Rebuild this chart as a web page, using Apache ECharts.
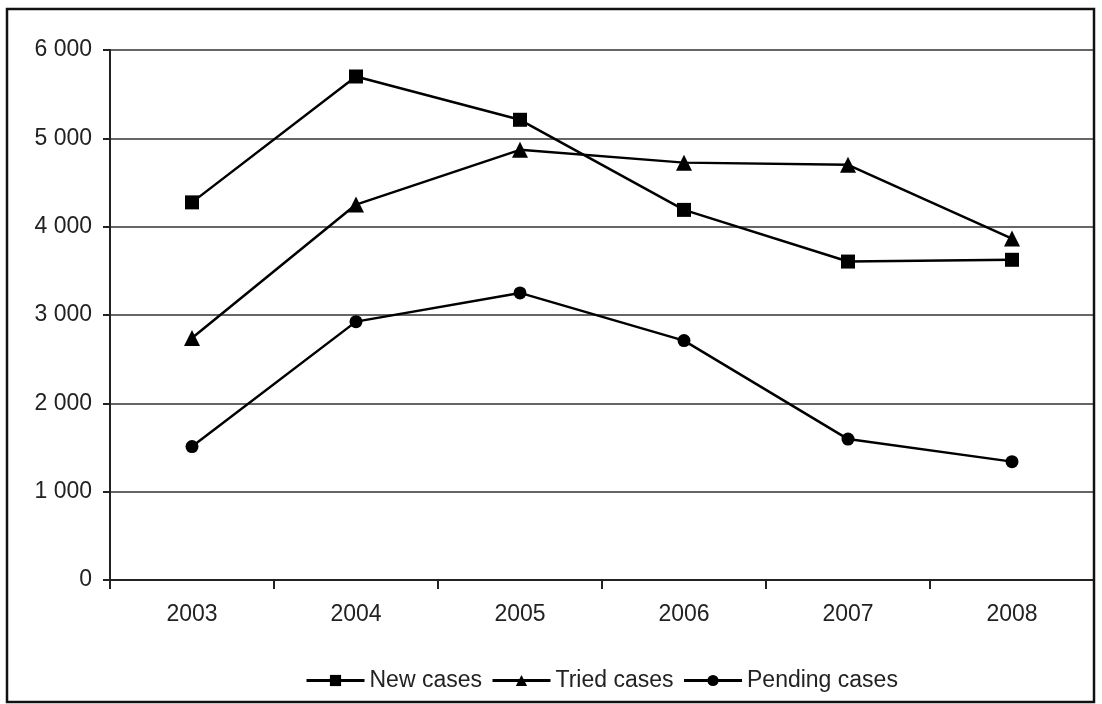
<!DOCTYPE html>
<html><head><meta charset="utf-8">
<script src="https://cdn.jsdelivr.net/npm/echarts@6/dist/echarts.min.js"></script>
<style>html,body{margin:0;padding:0;background:#fff}#c{width:1102px;height:704px}</style>
</head><body><div id="c"></div>
<script>
const categories = ['2003','2004','2005','2006','2007','2008'];
const newCases = [4275, 5700, 5210, 4190, 3605, 3625];
const triedCases = [2740, 4250, 4870, 4725, 4700, 3865];
const pendingCases = [1510, 2925, 3250, 2710, 1595, 1340];
const yTicks = [0, 1000, 2000, 3000, 4000, 5000, 6000];

const chart = echarts.init(document.getElementById('c'));
const fmt = v => String(v).replace(/\B(?=(\d{3})+(?!\d))/g, ' ');
const mk = (name, data, symbol, size) => ({
  name, type: 'line', data, symbol, symbolSize: size,
  lineStyle: { color: '#000', width: 2.5 },
  itemStyle: { color: '#000' },
  emphasis: { disabled: true }, animation: false
});
chart.setOption({
  animation: false,
  backgroundColor: '#fff',
  textStyle: { fontFamily: 'Liberation Sans' },
  graphic: [{ type: 'rect', shape: { x: 7, y: 9, width: 1087, height: 693 },
    style: { fill: 'none', stroke: '#111', lineWidth: 2.5 }, z: 100 }],
  grid: { left: 110, right: 8, top: 50, bottom: 124 },
  legend: {
    top: 664, left: 300, itemGap: 9, itemWidth: 58, itemHeight: 14,
    lineStyle: { width: 3, color: '#000' },
    textStyle: { fontSize: 23, color: '#222', fontFamily: 'Liberation Sans' },
    data: ['New cases', 'Tried cases', 'Pending cases']
  },
  xAxis: {
    type: 'category', data: categories, boundaryGap: true,
    axisLine: { lineStyle: { color: '#222', width: 2 } },
    axisTick: { show: true, length: 9, lineStyle: { color: '#222', width: 2 } },
    axisLabel: { fontSize: 23, color: '#222', margin: 23 }
  },
  yAxis: {
    type: 'value', min: yTicks[0], max: yTicks[yTicks.length - 1], interval: 1000,
    axisLine: { show: true, lineStyle: { color: '#222', width: 2 } },
    axisTick: { show: true, length: 7, lineStyle: { color: '#222', width: 2 } },
    axisLabel: { fontSize: 23, color: '#222', margin: 18, formatter: fmt },
    splitLine: { lineStyle: { color: '#333', width: 1.5 } }
  },
  series: [
    mk('New cases', newCases, 'rect', 14),
    mk('Tried cases', triedCases, 'triangle', 16),
    mk('Pending cases', pendingCases, 'circle', 13)
  ]
});
</script></body></html>
